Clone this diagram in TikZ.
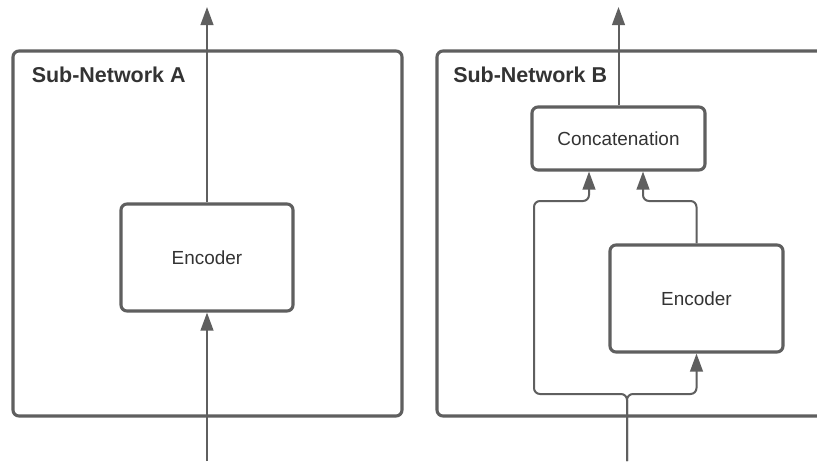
\documentclass[tikz,border=0pt]{standalone}
\usepackage{fontspec}
\setmainfont{Liberation Sans}
\usetikzlibrary{arrows.meta}
\definecolor{strokegray}{HTML}{5F5F5F}
\definecolor{textgray}{HTML}{333333}
\tikzset{
  outerbox/.style={draw=strokegray, line width=2.3pt, rounded corners=4.5pt, rectangle, inner sep=0pt},
  innerbox/.style={draw=strokegray, line width=2.3pt, rounded corners=4.5pt, rectangle, inner sep=0pt, fill=white,
    font=\fontsize{14.2pt}{17pt}\selectfont, text=textgray},
  conn/.style={draw=strokegray, line width=1.5pt, rounded corners=4.5pt,
    -{Triangle[length=13.5pt,width=9.5pt]}},
  plainconn/.style={draw=strokegray, line width=1.5pt, rounded corners=4.5pt},
  boxlabel/.style={font=\bfseries\fontsize{16.1pt}{19pt}\selectfont, text=textgray, anchor=west, inner sep=0pt}
}
\begin{document}
\begin{tikzpicture}[x=0.75pt,y=-0.75pt]
\clip (0,0) rectangle (817,464);
\fill[white] (0,0) rectangle (817,464);
% outer boxes
\node[outerbox, minimum width=291.75pt, minimum height=273.75pt] (boxA) at (207.5,233.5) {};
\node[outerbox, minimum width=309.75pt, minimum height=273.75pt] (boxB) at (643.5,233.5) {};
\node[boxlabel] (labA) at (31.5,74.5) {Sub-Network A};
\node[boxlabel] (labB) at (453,74.5) {Sub-Network B};
% inner boxes
\node[innerbox, minimum width=129pt, minimum height=80.25pt] (encA) at (207,257.5) {Encoder};
\node[innerbox, minimum width=129.75pt, minimum height=47.25pt] (concat) at (618.5,138.5) {Concatenation};
\node[innerbox, minimum width=129.75pt, minimum height=80.25pt] (encB) at (696.5,298.5) {Encoder};
% free ends
\coordinate (outA) at (207,7);
\coordinate (inA) at (207,461);
\coordinate (outB) at (618.5,7);
\coordinate (inB) at (627,461);
% connectors A
\draw[conn] (encA.north) -- (outA);
\draw[conn] (inA) -- (encA.south);
% connectors B
\draw[conn] (concat.north) -- (outB);
\draw[conn] (inB) -- (627,394) -- (534,394) -- (534,201) -- (589,201) -- ([xshift=-22.125pt]concat.south);
\draw[conn] (inB) -- (627,394) -- (696.5,394) -- (encB.south);
\draw[conn] (encB.north) -- (696.5,201) -- (643,201) -- ([xshift=18.375pt]concat.south);
\end{tikzpicture}
\end{document}
